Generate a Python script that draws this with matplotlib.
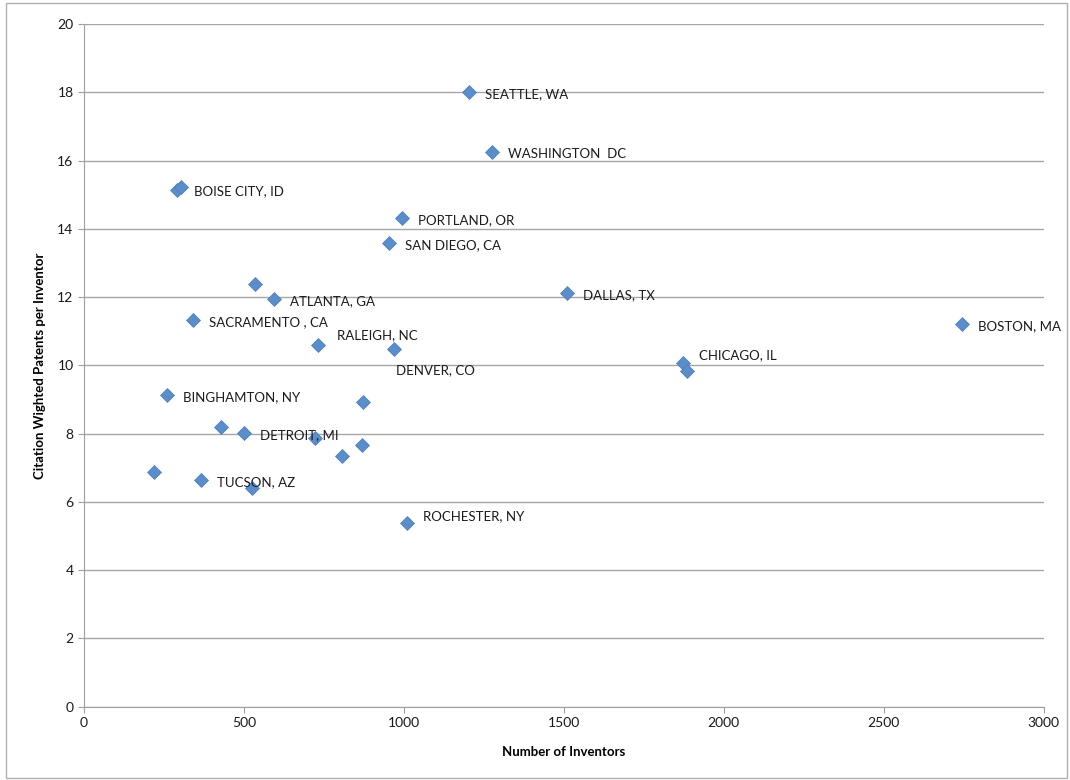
import matplotlib.pyplot as plt
from matplotlib.patches import Rectangle

plt.rcParams["font.family"] = ["Lato", "DejaVu Sans"]

# inventors (x) and citation weighted patents per inventor (y)
inventors = [1203, 1275, 290, 303, 994, 953, 535, 595, 1509, 341, 731, 968,
             2744, 1871, 1884, 261, 871, 427, 499, 721, 869, 808, 219, 365,
             525, 1011]
patents = [18.01, 16.25, 15.13, 15.24, 14.31, 13.58, 12.38, 11.95, 12.11,
           11.32, 10.61, 10.49, 11.20, 10.08, 9.84, 9.13, 8.92, 8.21, 8.02,
           7.86, 7.66, 7.35, 6.87, 6.64, 6.42, 5.38]
labels = ["SEATTLE, WA", "WASHINGTON  DC", "", "BOISE CITY, ID",
          "PORTLAND, OR", "SAN DIEGO, CA", "", "ATLANTA, GA", "DALLAS, TX",
          "SACRAMENTO , CA", "RALEIGH, NC", "DENVER, CO", "BOSTON, MA",
          "CHICAGO, IL", "", "BINGHAMTON, NY", "", "", "DETROIT, MI", "", "",
          "", "", "TUCSON, AZ", "", "ROCHESTER, NY"]

# label offsets in pixels (dx, dy); most labels sit to the right
offsets = {"BOISE CITY, ID": (13, -5), "RALEIGH, NC": (19, 9),
           "CHICAGO, IL": (16, 8), "ROCHESTER, NY": (16, 7),
           "DENVER, CO": (2, -21)}

fig = plt.figure(figsize=(10.7, 7.8), dpi=100)
fig.patches.append(Rectangle((0.006, 0.002), 0.991, 0.994, transform=fig.transFigure,
                             fill=False, edgecolor="#b0b0b0", linewidth=1))
ax = fig.add_axes([0.0785, 0.094, 0.897, 0.875])

ax.plot(inventors, patents, linestyle="none", marker="D", markersize=7.5,
        color="#5b8ec8", markeredgecolor="#4a7dbb", markeredgewidth=0.5, zorder=3)

for x, y, lab in zip(inventors, patents, labels):
    if not lab:
        continue
    dx, dy = offsets.get(lab, (16, -2))
    ax.annotate(lab, (x, y), xytext=(dx, dy), textcoords="offset pixels",
                ha="left", va="center", fontsize=9.5, color="#1a1a1a")

ax.set_xlim(0, 3000)
ax.set_ylim(0, 20)
ax.set_xticks(range(0, 3001, 500))
ax.set_yticks(range(0, 21, 2))
ax.yaxis.grid(True, color="#a6a6a6", linewidth=1)
ax.set_axisbelow(True)
for side in ["top", "right"]:
    ax.spines[side].set_visible(False)
for side in ["left", "bottom"]:
    ax.spines[side].set_color("#a0a0a0")
ax.tick_params(colors="#a0a0a0", labelcolor="#1a1a1a", labelsize=10, length=4)

ax.set_xlabel("Number of Inventors", fontsize=9.5, fontweight="bold", labelpad=12)
ax.set_ylabel("Citation Wighted Patents per Inventor", fontsize=9.5,
              fontweight="bold", labelpad=8)

fig.savefig("out.png", dpi=100)
